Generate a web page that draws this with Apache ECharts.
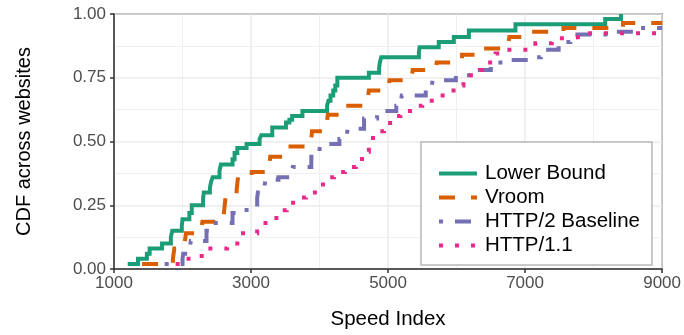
<!DOCTYPE html>
<html>
<head>
<meta charset="utf-8">
<script src="https://cdn.jsdelivr.net/npm/echarts@6/dist/echarts.min.js"></script>
<style>
  html, body { margin: 0; padding: 0; background: #fff; }
  #chart { width: 684px; height: 335px; }
</style>
</head>
<body>
<div id="chart"></div>
<script>
// series names, in legend order
var seriesNames = ['Lower Bound', 'Vroom', 'HTTP/2 Baseline', 'HTTP/1.1'];

// Speed Index (x) and CDF (y) step points
var lowerX = [1200, 1350, 1480, 1520, 1700, 1830, 1850, 1990, 2000, 2100, 2135, 2300, 2310, 2400, 2420, 2440, 2540, 2560, 2730, 2760, 2800, 2935, 3125, 3150, 3310, 3510, 3560, 3600, 3750, 4110, 4130, 4160, 4200, 4230, 4260, 4720, 4870, 4880, 4900, 5450, 5460, 5740, 5960, 6180, 6860, 8170, 8400];
var lowerY = [0.02, 0.04, 0.06, 0.08, 0.10, 0.125, 0.15, 0.17, 0.195, 0.22, 0.25, 0.275, 0.30, 0.32, 0.345, 0.36, 0.385, 0.41, 0.43, 0.455, 0.475, 0.49, 0.51, 0.525, 0.555, 0.575, 0.585, 0.60, 0.62, 0.64, 0.66, 0.68, 0.70, 0.72, 0.75, 0.77, 0.79, 0.81, 0.83, 0.85, 0.87, 0.89, 0.91, 0.935, 0.96, 0.98, 1.0];

var vroomX = [1410, 1860, 1870, 1880, 2030, 2040, 2050, 2280, 2290, 2600, 2610, 2620, 2630, 2790, 2800, 2810, 3010, 3270, 3280, 3530, 3540, 3880, 3890, 4100, 4110, 4120, 4360, 4370, 4700, 4710, 4720, 5010, 5020, 5350, 5360, 5700, 5710, 6080, 6400, 6760, 6770, 7040, 7560, 8430, 9000];
var vroomY = [0.02, 0.04, 0.06, 0.08, 0.10, 0.12, 0.14, 0.165, 0.185, 0.21, 0.235, 0.26, 0.285, 0.31, 0.335, 0.36, 0.38, 0.41, 0.44, 0.46, 0.48, 0.51, 0.54, 0.56, 0.58, 0.605, 0.625, 0.64, 0.66, 0.68, 0.70, 0.72, 0.74, 0.76, 0.78, 0.79, 0.81, 0.84, 0.865, 0.89, 0.91, 0.93, 0.945, 0.965, 0.965];

var h2X = [1740, 2000, 2010, 2110, 2120, 2350, 2440, 2450, 2730, 2935, 3090, 3100, 3200, 3210, 3400, 3600, 3610, 3880, 4000, 4010, 4290, 4400, 4410, 4650, 4840, 4850, 5120, 5190, 5200, 5550, 5640, 5650, 5990, 6200, 6500, 6640, 7050, 7230, 7240, 7490, 7660, 7670, 8240, 8580, 9000];
var h2Y = [0.02, 0.04, 0.06, 0.085, 0.11, 0.15, 0.17, 0.18, 0.22, 0.24, 0.28, 0.30, 0.33, 0.35, 0.36, 0.38, 0.40, 0.44, 0.47, 0.49, 0.51, 0.53, 0.55, 0.59, 0.60, 0.62, 0.64, 0.66, 0.68, 0.70, 0.72, 0.74, 0.76, 0.78, 0.80, 0.82, 0.83, 0.85, 0.86, 0.89, 0.90, 0.92, 0.93, 0.945, 0.945];

var h1X = [1900, 1930, 2280, 2650, 2800, 2830, 3090, 3100, 3250, 3370, 3520, 3700, 3800, 3970, 4050, 4060, 4210, 4370, 4530, 4620, 4720, 4780, 4940, 5030, 5180, 5410, 5500, 5670, 5840, 6000, 6100, 6110, 6340, 6450, 6570, 6730, 7150, 7390, 7630, 7810, 9000];
var h1Y = [0.02, 0.04, 0.08, 0.10, 0.12, 0.14, 0.16, 0.18, 0.20, 0.23, 0.26, 0.28, 0.30, 0.32, 0.34, 0.36, 0.38, 0.40, 0.42, 0.46, 0.495, 0.54, 0.56, 0.60, 0.62, 0.64, 0.66, 0.68, 0.70, 0.72, 0.74, 0.76, 0.78, 0.81, 0.845, 0.86, 0.885, 0.905, 0.91, 0.925, 0.925];

// axis ticks
var xTicks = [1000, 3000, 5000, 7000, 9000];
var yTicks = [0, 0.25, 0.5, 0.75, 1];

var colors = ['#1B9E77', '#D95F02', '#7570B3', '#E7298A'];
var dashes = ['solid', [16, 16], [4, 12, 16, 12], [4, 12]];

function pairs(xs, ys) {
    return xs.map(function (x, i) { return [x, ys[i]]; });
}

var allData = [pairs(lowerX, lowerY), pairs(vroomX, vroomY), pairs(h2X, h2Y), pairs(h1X, h1Y)];

var chart = echarts.init(document.getElementById('chart'), null, { renderer: 'canvas' });

var font = '"Liberation Sans", Arial, sans-serif';

var option = {
    animation: false,
    textStyle: { fontFamily: font },
    grid: {
        left: 114, right: 20, top: 14, bottom: 66,
        show: true, borderColor: '#333333', borderWidth: 1.5, backgroundColor: '#fff'
    },
    legend: {
        orient: 'vertical',
        left: 421, top: 142,
        padding: [21, 12, 9, 16],
        itemWidth: 38, itemHeight: 20, itemGap: 3,
        backgroundColor: '#fff',
        borderColor: '#b8b8b8', borderWidth: 1.5, borderRadius: 0,
        data: seriesNames,
        // hide the marker the line legend adds on top of the line key
        itemStyle: { opacity: 0 },
        lineStyle: { width: 4 },
        textStyle: { fontSize: 20.5, color: '#000', fontFamily: font, padding: [0, 0, 0, 3], lineHeight: 20 }
    },
    xAxis: {
        type: 'value',
        min: xTicks[0], max: xTicks[xTicks.length - 1], interval: 2000,
        name: 'Speed Index', nameLocation: 'middle', nameGap: 40,
        nameTextStyle: { fontSize: 20.5, color: '#000', fontFamily: font },
        axisLine: { show: true, onZero: false, lineStyle: { color: '#333333', width: 1.5 } },
        axisTick: { show: true, length: 4, lineStyle: { color: '#333333', width: 1.5 } },
        axisLabel: {
            fontSize: 17, color: '#4D4D4D', margin: 6, fontFamily: font, showMinLabel: true, showMaxLabel: true,
            formatter: function (v) { return String(v); }
        },
        splitLine: { show: true, lineStyle: { color: '#EBEBEB', width: 1.5 } },
        minorTick: { show: false, splitNumber: 2 },
        minorSplitLine: { show: true, lineStyle: { color: '#EBEBEB', width: 0.8 } }
    },
    yAxis: {
        type: 'value',
        min: yTicks[0], max: yTicks[yTicks.length - 1], interval: 0.25,
        name: 'CDF across websites', nameLocation: 'middle', nameGap: 80,
        nameTextStyle: { fontSize: 20, color: '#000', fontFamily: font },
        axisLine: { show: true, onZero: false, lineStyle: { color: '#333333', width: 1.5 } },
        axisTick: { show: true, length: 4, lineStyle: { color: '#333333', width: 1.5 } },
        axisLabel: {
            fontSize: 17, color: '#4D4D4D', margin: 8, fontFamily: font,
            formatter: function (v) { return v.toFixed(2); }
        },
        splitLine: { show: true, lineStyle: { color: '#EBEBEB', width: 1.5 } },
        minorTick: { show: false, splitNumber: 2 },
        minorSplitLine: { show: true, lineStyle: { color: '#EBEBEB', width: 0.8 } }
    },
    series: seriesNames.map(function (name, i) {
        return {
            type: 'line',
            name: name,
            data: allData[i],
            step: 'end',
            symbol: 'none',
            showSymbol: false,
            clip: true,
            color: colors[i],
            lineStyle: { color: colors[i], width: 4, type: dashes[i], cap: 'butt', join: 'miter' }
        };
    })
};

chart.setOption(option);
</script>
</body>
</html>
